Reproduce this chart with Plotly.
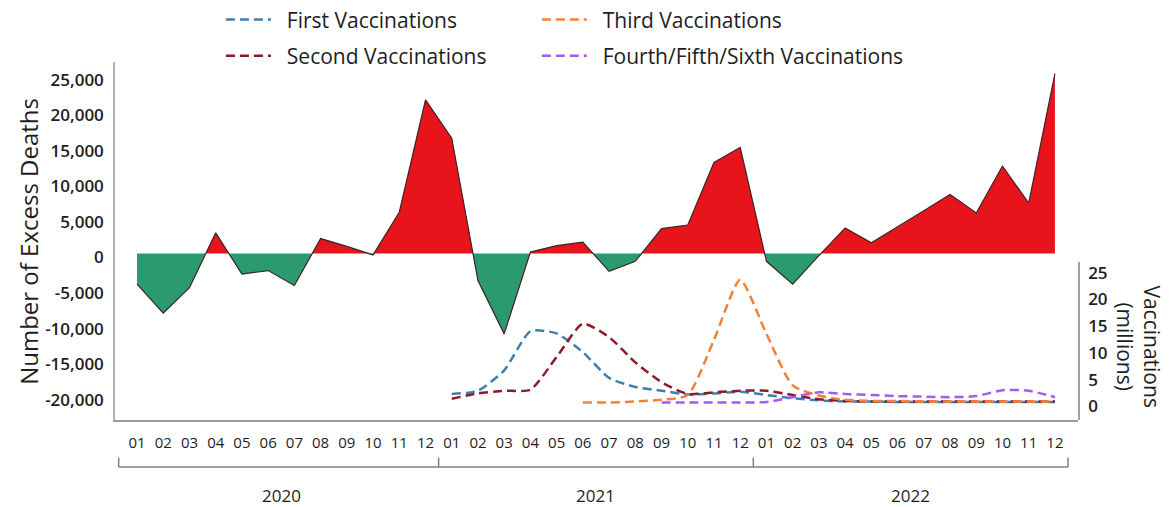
import plotly.graph_objects as go

# ---------------- data ----------------
years = ["2020", "2021", "2022"]
months = ["01", "02", "03", "04", "05", "06", "07", "08", "09", "10", "11", "12"]

excess_deaths = [
    -4300, -8400, -4800, 2900, -2900, -2400, -4500, 2100, 1000, -200, 5800, 21600,
    16200, -3800, -11300, 200, 1100, 1600, -2500, -1100, 3500, 4000, 12800, 14900,
    -1100, -4300, -300, 3600, 1500, 3700, 6000, 8300, 5700, 12300, 7100, 25300,
]

first_vacc = [None] * 12 + [
    1.6, 2.2, 6.0, 13.3, 12.9, 9.4, 4.6, 2.9, 2.2, 1.5, 1.7, 2.0,
    1.4, 0.8, 0.4, 0.2, 0.2, 0.1, 0.1, 0.1, 0.1, 0.1, 0.1, 0.1,
]
second_vacc = [None] * 12 + [
    0.7, 1.7, 2.2, 2.4, 8.5, 14.7, 12.2, 7.5, 3.8, 1.6, 1.9, 2.2,
    2.2, 1.4, 0.6, 0.3, 0.2, 0.2, 0.2, 0.2, 0.2, 0.2, 0.2, 0.2,
]
third_vacc = [None] * 17 + [
    0.0, 0.0, 0.2, 0.5, 1.4, 11.7, 22.9,
    12.8, 3.2, 1.3, 0.5, 0.3, 0.3, 0.2, 0.2, 0.2, 0.2, 0.2, 0.2,
]
fourth_vacc = [None] * 20 + [
    0.0, 0.0, 0.0, 0.0,
    0.1, 1.0, 1.9, 1.6, 1.4, 1.2, 1.1, 1.0, 1.2, 2.3, 2.2, 1.0,
]

excess_ticks = [-20000, -15000, -10000, -5000, 0, 5000, 10000, 15000, 20000, 25000]
excess_tick_labels = ["-20,000", "-15,000", "-10,000", "-5,000", "0",
                      "5,000", "10,000", "15,000", "20,000", "25,000"]
vacc_ticks = [0, 5, 10, 15, 20, 25]
vacc_tick_labels = ["0", "5", "10", "15", "20", "25"]

# ---------------- derived ----------------
n = len(years) * len(months)
x = list(range(n))
month_labels = months * len(years)

# split area at zero crossings
ax, ay = [], []
for i, v in enumerate(excess_deaths):
    if i > 0:
        y0, y1 = excess_deaths[i - 1], v
        if y0 * y1 < 0:
            t = y0 / (y0 - y1)
            ax.append(x[i - 1] + t)
            ay.append(0)
    ax.append(x[i])
    ay.append(v)
pos = [max(v, 0) for v in ay]
neg = [min(v, 0) for v in ay]

FONT = "Open Sans"
RED = "#E8141C"
GREEN = "#2B9A6F"
TXT = "#1e1e1e"
PAD = "\u00a0\u00a0"

fig = go.Figure()
fig.add_trace(go.Scatter(x=ax, y=neg, mode="lines", fill="tozeroy", fillcolor=GREEN,
                         line=dict(width=0), showlegend=False, hoverinfo="skip"))
fig.add_trace(go.Scatter(x=ax, y=pos, mode="lines", fill="tozeroy", fillcolor=RED,
                         line=dict(width=0), showlegend=False, hoverinfo="skip"))
fig.add_trace(go.Scatter(x=x, y=excess_deaths, mode="lines",
                         line=dict(color="#3a2424", width=1.2), showlegend=False))

series = [
    ("First Vaccinations", first_vacc, "#3F7FB0", "legend"),
    ("Second Vaccinations", second_vacc, "#8B1C26", "legend"),
    ("Third Vaccinations", third_vacc, "#F4813A", "legend2"),
    ("Fourth/Fifth/Sixth Vaccinations", fourth_vacc, "#A45CF0", "legend2"),
]
for name, vals, col, lg in series:
    fig.add_trace(go.Scatter(x=x, y=vals, mode="lines", name=PAD + name, yaxis="y2",
                             legend=lg, legendgroup=name,
                             line=dict(color=col, width=2.5, dash="9px,5px",
                                       shape="spline", smoothing=0.6)))

# year brackets
shapes = []
LINEC = "#808080"
bounds = [12 * k - 0.5 for k in range(len(years) + 1)]
shapes.append(dict(type="line", xref="x", yref="paper", x0=bounds[0] - 0.2, x1=bounds[-1],
                   y0=-0.131, y1=-0.131, line=dict(color=LINEC, width=1.5)))
for j, b in enumerate(bounds):
    bx = b - 0.2 if j == 0 else b
    shapes.append(dict(type="line", xref="x", yref="paper", x0=bx, x1=bx,
                       y0=-0.131, y1=-0.105, line=dict(color=LINEC, width=1.5)))

annotations = []
for k, yr in enumerate(years):
    annotations.append(dict(text=yr, x=12 * k + 5.5, xref="x", y=-0.21, yref="paper",
                            xanchor="center", yanchor="middle", showarrow=False,
                            font=dict(family=FONT, size=17, color=TXT)))
annotations.append(dict(text="Number of Excess Deaths", textangle=-90, x=-0.0905,
                        xref="paper", y=0.5, yref="paper", xanchor="center",
                        yanchor="middle", showarrow=False,
                        font=dict(family=FONT, size=24, color=TXT)))
annotations.append(dict(text="Vaccinations<br>(millions)", textangle=90, x=1.0625,
                        xref="paper", y=0.205, yref="paper", xanchor="center",
                        yanchor="middle", showarrow=False,
                        font=dict(family=FONT, size=21, color=TXT)))

TICKFONT = dict(family=FONT, size=17, color=TXT, weight=600)

fig.update_layout(
    width=1171, height=507,
    margin=dict(l=115, r=93, t=62, b=87, autoexpand=False),
    paper_bgcolor="white", plot_bgcolor="rgba(0,0,0,0)",
    font=dict(family=FONT, color=TXT),
    shapes=shapes, annotations=annotations,
    xaxis=dict(range=[-0.84, 35.88], tickmode="array", tickvals=x, ticktext=month_labels,
               showline=True, linecolor="#9a9a9a", linewidth=2, showgrid=False,
               zeroline=False, ticks="", tickfont=dict(size=15, color=TXT),
               ticklabelstandoff=8),
    yaxis=dict(range=[-23410, 26925], tickmode="array", tickvals=excess_ticks,
               ticktext=excess_tick_labels, showline=True, linecolor="#b0b0b0",
               linewidth=1.5, showgrid=False, zeroline=False, ticks="",
               tickfont=TICKFONT, ticklabelshift=4, ticklabelstandoff=6),
    yaxis2=dict(domain=[0, 0.441], anchor="x", side="right",
                range=[-3.26, 26.2], tickmode="array", tickvals=vacc_ticks,
                ticktext=vacc_tick_labels, showline=True, linecolor="#a0a0a0",
                linewidth=1.5, showgrid=False, zeroline=False, ticks="",
                tickfont=TICKFONT, ticklabelshift=4, ticklabelstandoff=5),
    legend=dict(x=0.110, y=1.175, xanchor="left", yanchor="top",
                font=dict(family=FONT, size=21, color=TXT), tracegroupgap=6,
                itemwidth=45, bgcolor="rgba(0,0,0,0)"),
    legend2=dict(x=0.438, y=1.175, xanchor="left", yanchor="top",
                 font=dict(family=FONT, size=21, color=TXT), tracegroupgap=6,
                 itemwidth=45, bgcolor="rgba(0,0,0,0)"),
)

fig.write_html("out.html", config={"displayModeBar": False},
               post_script="document.body.style.margin='0px';")
